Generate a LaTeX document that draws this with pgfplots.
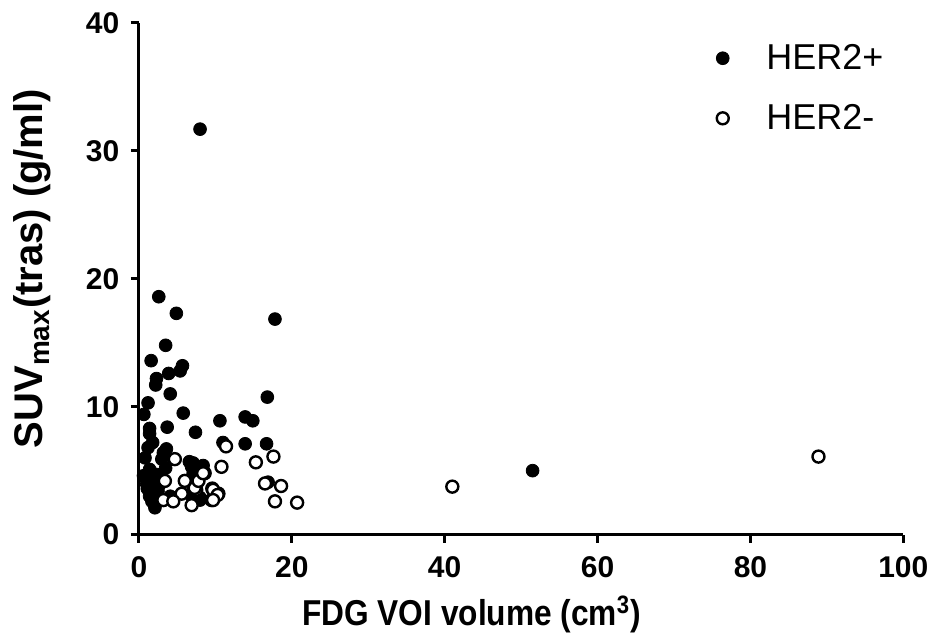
\documentclass[border=0pt]{standalone}
\usepackage{fontspec}
\setmainfont{Liberation Sans}
\usepackage{pgfplots}
\pgfplotsset{compat=1.18}

\begin{document}
\begin{tikzpicture}
\begin{axis}[
  name=main,
  scale only axis, width=382.5pt, height=256pt,
  xmin=0, xmax=100, ymin=0, ymax=40,
  axis lines*=left,
  axis line style={line width=1.5pt},
  xtick={0,20,...,100}, ytick={0,10,...,40},
  tick align=outside, major tick length=4pt,
  tick style={line width=1.5pt, black},
  ticklabel style={font=\fontsize{15}{17}\selectfont\bfseries},
  xticklabel style={yshift=-3.5pt},
  yticklabel style={xshift=-2.3pt},
  /pgf/number format/assume math mode=true,
  xlabel={\scalebox{0.88}[1]{FDG VOI volume (cm\textsuperscript{3})}},
  ylabel={SUV\textsubscript{max}(tras) (g/ml)},
  xlabel style={font=\fontsize{18}{21}\selectfont\bfseries,
    at={(axis description cs:0.435,-0.156)}, anchor=center},
  ylabel style={font=\fontsize{20}{24}\selectfont\bfseries,
    at={(axis description cs:-0.139,0.52)}, anchor=center},
  clip=false,
  legend style={at={(axis cs:74,39.0)}, anchor=north west, draw=none, fill=none,
    font=\fontsize{18}{21}\selectfont, row sep=12pt},
  legend cell align=left,
  legend image code/.code={\draw[#1] plot coordinates {(0cm,0cm)}; \path (-0.2cm,0cm) (0.69cm,0cm);},
]
% HER2+ (filled)
\addplot[only marks, mark=*, mark size=3.2pt, black, mark options={fill=black}]
  coordinates {
    (2.6,18.6) (4.9,17.3) (17.8,16.85) (3.5,14.8) (1.6,13.6) (5.7,13.2)
    (5.4,12.8) (3.9,12.6) (2.3,12.2) (2.2,11.7) (4.1,11.0) (16.8,10.75)
    (1.2,10.3) (0.65,9.4) (5.8,9.5) (10.6,8.9) (13.9,9.2) (14.9,8.9)
    (1.4,8.3) (3.7,8.4) (1.4,7.9) (7.4,8.0) (1.8,7.2) (11.0,7.2)
    (13.9,7.1) (16.7,7.1) (1.2,6.8) (3.6,6.7) (3.2,6.4) (0.8,6.0)
    (3.0,5.9) (6.6,5.7) (6.9,5.3) (8.4,5.4) (7.1,4.8) (1.4,5.1)
    (0.6,4.6) (2.3,4.7) (1.0,4.0) (2.7,3.9) (16.9,4.1) (1.4,3.0)
    (4.1,3.0) (6.9,3.0) (8.0,2.9) (2.1,2.1) (1.7,2.6) (8.0,31.7)
    (51.5,5.0) (1.9,4.3) (2.5,3.4) (1.1,3.6) (3.5,5.2) (2.9,2.8)
    (7.1,3.5) (8.0,2.7) (7.1,5.6)
  };
\addlegendentry{HER2+}
% HER2- (open)
\addplot[only marks, mark=*, mark size=3.0pt, black, mark options={fill=white, line width=1.2pt}]
  coordinates {
    (11.4,6.9) (4.7,5.9) (17.6,6.1) (15.3,5.65) (10.8,5.3) (8.6,4.8)
    (3.4,4.2) (6.0,4.2) (7.5,3.9) (7.5,3.5) (9.6,3.6) (10.4,3.2)
    (16.5,4.0) (18.6,3.8) (5.6,3.2) (9.5,2.7) (3.2,2.7) (4.5,2.6)
    (6.9,2.3) (17.8,2.6) (20.7,2.5) (41.0,3.75) (88.9,6.1)
    (7.3,3.65) (9.7,3.5) (10.3,3.1) (9.7,2.7) (7.8,4.2) (8.4,4.8)
  };
\addlegendentry{HER2-}
\end{axis}
% margins as in the reference
\path ([shift={(-69.5pt,11.5pt)}]main.north west) ([shift={(15.5pt,-51.5pt)}]main.south east);
\end{tikzpicture}
\end{document}
